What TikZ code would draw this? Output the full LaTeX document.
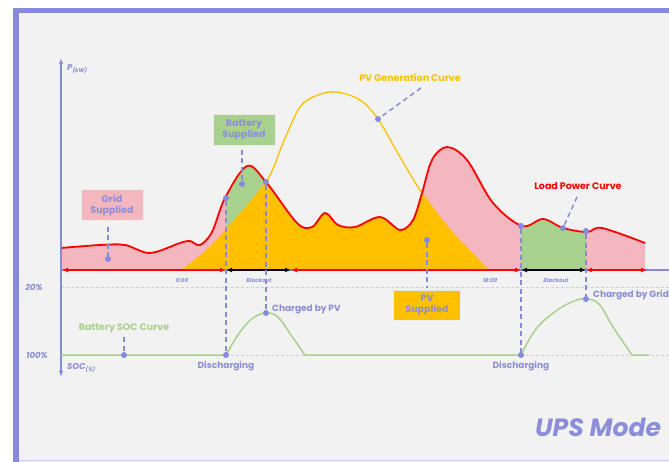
\documentclass[tikz,border=0pt]{standalone}
\usepackage{fontspec}
\setmainfont{Poppins}
\usetikzlibrary{arrows.meta}
\definecolor{bgc}{HTML}{F2F2F2}
\definecolor{pur}{HTML}{8789D9}
\definecolor{purt}{HTML}{8C8ED9}
\definecolor{pinkc}{HTML}{F4B7BF}
\definecolor{orc}{HTML}{FFC000}
\definecolor{grc}{HTML}{A9D18E}
\definecolor{redc}{HTML}{FF0000}
\tikzset{
  loadpts/.style={insert path={-- plot[smooth,tension=0.55] coordinates {(61,248) (100,245) (125,245) (150,253) (180,243) (190,241) (200,245) (212,232) (225,198) (247,166) (266,182) (297,223) (312,227) (325,213) (338,225) (355,227) (380,217) (400,230) (413,220) (422,193) (432,160) (447,147) (467,160) (493,203) (522,226) (543,219) (563,228) (587,232) (602,228) (645,243)}}},
  pvpts/.style={insert path={-- plot[smooth,tension=0.55] coordinates {(182,270) (200,256) (226,230) (266,182) (283,143) (300,107) (318,95) (337,92) (360,100) (378,119) (400,157) (422,193) (450,230) (470,251) (488,270)}}},
  dashp/.style={pur, line width=1.4pt, dash pattern=on 5pt off 3.5pt},
  dotn/.style={circle, fill=pur, inner sep=0pt, minimum size=6pt},
  callout/.style={font=\bfseries\fontsize{9.5}{11}\selectfont, text=purt, align=center, minimum width=62pt, minimum height=31pt, inner sep=1pt, draw=black!8, line width=1pt},
  plbl/.style={font=\bfseries\fontsize{9}{10}\selectfont, text=purt, inner sep=0pt},
  tlbl/.style={font=\bfseries\itshape\fontsize{5.5}{6}\selectfont, text=purt, inner sep=0pt},
  axl/.style={font=\bfseries\itshape\fontsize{8.5}{10}\selectfont, text=purt, inner sep=0pt},
  tarr/.style={line width=1.8pt, {Latex[length=6pt,width=5pt]}-{Latex[length=6pt,width=5pt]}},
}
\begin{document}
\begin{tikzpicture}[x=1pt,y=-1pt]
\useasboundingbox (0,0) rectangle (669,462);
% frame
\fill[white] (0,0) rectangle (669,462);
\fill[bgc] (13,8) rectangle (669,462);
\fill[pur] (13,8) rectangle (669,13.5);
\fill[pur] (13,8) rectangle (19,462);
\draw[pur!45!white, line width=1pt] (19,460.5) -- (669,460.5);
% reference dashed lines
\draw[black!18, line width=0.6pt, dash pattern=on 3pt off 2pt] (61,287) -- (669,287);
\draw[black!18, line width=0.6pt, dash pattern=on 3pt off 2pt] (61,355) -- (669,355);
% areas
\fill[pinkc] (61,270) [loadpts] -- (645,270) -- cycle;
\begin{scope}
  \clip (226,0) rectangle (266,270) (521,0) rectangle (586,270);
  \fill[grc] (61,270) [loadpts] -- (645,270) -- cycle;
\end{scope}
\begin{scope}
  \clip (61,270) [loadpts] -- (645,270) -- cycle;
  \fill[orc] (182,270) [pvpts] -- cycle;
\end{scope}
\draw[orc, line width=1.3pt] (182,270) [pvpts];
\draw[redc, line width=1.8pt] (61,248) [loadpts];
% axes
\draw[pur, line width=1.4pt, {Latex[length=6pt,width=4.5pt]}-{Latex[length=6pt,width=4.5pt]}] (61,377) -- (61,58);
\draw[pur, line width=1.4pt] (61,270) -- (669,270);
\coordinate (t0) at (62,270);
\coordinate (t1) at (226,270);
\coordinate (t2) at (291,270);
\coordinate (t3) at (521,270);
\coordinate (t4) at (586,270);
\coordinate (t5) at (647,270);
\draw[redc, tarr] (t0) -- (t1);
\draw[black, tarr] (t1) -- (t2);
\draw[redc, tarr] (t2) -- (t3);
\draw[black, tarr] (t3) -- (t4);
\draw[redc, tarr] (t4) -- (t5);
\node[tlbl] (l600) at (182,280) {6:00};
\node[tlbl] (lb1) at (259,280) {Blackout};
\node[tlbl] (l1800) at (490,280) {18:00};
\node[tlbl] (lb2) at (556,280) {Blackout};
% axis labels
\node[axl, anchor=west] (pax) at (67,69) {P\raisebox{-2pt}{\fontsize{5.5}{6}\selectfont(kW)}};
\node[axl, anchor=west] (sax) at (67,368) {SOC\raisebox{-2pt}{\fontsize{5.5}{6}\selectfont(\%)}};
\node[axl] (p20) at (34,287) {20\%};
\node[axl] (p100) at (37,355) {100\%};
% SOC curve
\draw[grc, line width=1.5pt] (61,355) -- (226,355)
  -- plot[smooth,tension=0.6] coordinates {(226,355) (240,332) (253,318) (266,313) (278,317) (291,335) (305,355)}
  -- (521,355)
  -- plot[smooth,tension=0.6] coordinates {(521,355) (536,329) (556,311) (574,301) (586,299) (599,304) (613,327) (632,355)}
  -- (649,355);
% dots
\node[dotn] (dGrid) at (108,259) {};
\node[dotn] (dBat) at (242,184) {};
\node[dotn] (dL1) at (226,198) {};
\node[dotn] (dS1) at (226,355) {};
\node[dotn] (dX) at (266,182) {};
\node[dotn] (dS2) at (266,313) {};
\node[dotn] (dPV) at (427,240) {};
\node[dotn] (dPVc) at (378,119) {};
\node[dotn] (dLoad) at (563,228) {};
\node[dotn] (dL2) at (521,226) {};
\node[dotn] (dS3) at (521,355) {};
\node[dotn] (dL3) at (586,231) {};
\node[dotn] (dS4) at (586,299) {};
\node[dotn] (dSOC) at (124,355) {};
% callouts
\node[callout, fill=pinkc] (cGrid) at (112,205) {Grid\\Supplied};
\node[callout, fill=grc] (cBat) at (244,130) {Battery\\Supplied};
\node[callout, fill=orc, minimum width=67pt, minimum height=30pt] (cPV) at (427,305) {PV\\Supplied};
\node[font=\bfseries\fontsize{9.5}{11}\selectfont, text=orc] (tPVg) at (410,78) {PV Generation Curve};
\node[font=\bfseries\fontsize{9.5}{11}\selectfont, text=redc] (tLoad) at (578,186) {Load Power Curve};
\node[font=\bfseries\fontsize{9.5}{11}\selectfont, text=grc] (tSOC) at (124,328) {Battery SOC Curve};
\coordinate (cGridB) at (108,227);
\coordinate (cBatB) at (242,150);
\coordinate (cPVT) at (427,288);
\coordinate (tPVgE) at (421,88);
\coordinate (tLoadE) at (577,197);
\coordinate (tSOCE) at (124,337);
\draw[dashp] (cGridB) -- (dGrid);
\draw[dashp] (cBatB) -- (dBat);
\draw[dashp] (dPV) -- (cPVT);
\draw[dashp] (tPVgE) -- (dPVc);
\draw[dashp] (tLoadE) -- (dLoad);
\draw[dashp] (tSOCE) -- (dSOC);
\draw[dashp] (dL1) -- (dS1);
\draw[dashp] (dX) -- (dS2);
\draw[dashp] (dL2) -- (dS3);
\draw[dashp] (dL3) -- (dS4);
% labels
\node[plbl, anchor=west] (lcpv) at (272,309) {Charged by PV};
\node[plbl, anchor=west] (lcgrid) at (593,295) {Charged by Grid};
\node[plbl] (ldis1) at (226,366) {Discharging};
\node[plbl] (ldis2) at (521,366) {Discharging};
\node[font=\bfseries\itshape\fontsize{25}{28}\selectfont, text=purt, inner sep=0pt] (ups) at (598,427) {UPS Mode};
\end{tikzpicture}
\end{document}
